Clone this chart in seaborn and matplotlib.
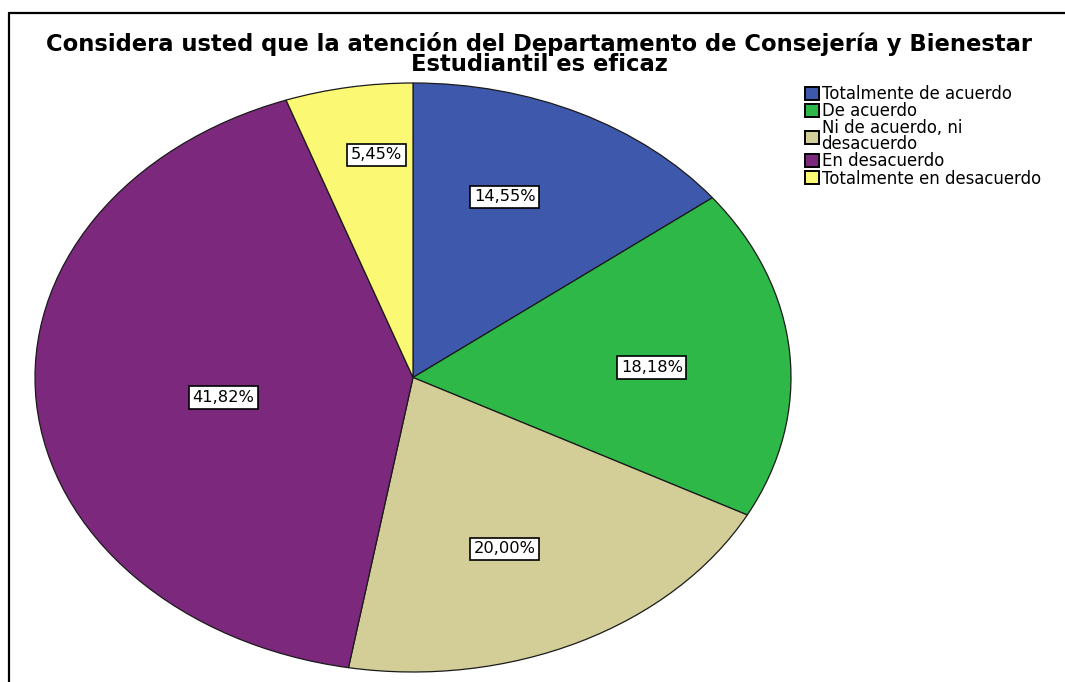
import numpy as np
import matplotlib
matplotlib.use("Agg")
import matplotlib.pyplot as plt
from matplotlib.lines import Line2D
from matplotlib.patches import Patch
import seaborn as sns

TITLE = ("Considera usted que la atención del Departamento de Consejería y Bienestar\n"
         "Estudiantil es eficaz")
categories = ["Totalmente de acuerdo", "De acuerdo", "Ni de acuerdo, ni\ndesacuerdo",
              "En desacuerdo", "Totalmente en desacuerdo"]
percentages = [14.55, 18.18, 20.00, 41.82, 5.45]
colors = ["#3E58AC", "#2EB848", "#D3CE97", "#7C287D", "#FBF873"]

# where each percentage box sits: fraction of radius and angle nudge (deg)
label_r = [0.66, 0.633, 0.63, 0.507, 0.762]
label_nudge = [4.6, -1.8, -3.5, 2.8, -2.5]

sns.set_theme(style="white")
plt.rcParams["font.family"] = ["DejaVu Sans"]
plt.rcParams["text.color"] = "black"

W, H = 1065, 682
fig = plt.figure(figsize=(W / 100, H / 100), dpi=100)
fig.patch.set_facecolor("white")

# elliptical pie: axes box is the ellipse bounding box
ax = fig.add_axes([35 / W, 1 - 672 / H, 756 / W, 589 / H])
wedges, _ = ax.pie(percentages, colors=sns.color_palette(colors), startangle=90,
                   counterclock=False, radius=1,
                   wedgeprops=dict(edgecolor="#1a1a1a", linewidth=0.9))
ax.set_aspect("auto")
ax.set_xlim(-1, 1)
ax.set_ylim(-1, 1)
ax.axis("off")

for w, pct, r, nd in zip(wedges, percentages, label_r, label_nudge):
    mid = np.deg2rad((w.theta1 + w.theta2) / 2 + nd)
    txt = f"{pct:.2f}%".replace(".", ",")
    ax.text(r * np.cos(mid), r * np.sin(mid), txt, ha="center", va="center",
            fontsize=11.7, color="black",
            bbox=dict(boxstyle="square,pad=0.22", facecolor="white",
                      edgecolor="black", linewidth=1.2))

fig.text(539 / W, 1 - 32 / H, TITLE, ha="center", va="top", fontsize=16.3,
         fontweight="bold", linespacing=0.86, color="black")

handles = [Patch(facecolor=c, edgecolor="black", linewidth=1.4) for c in colors]
leg = fig.legend(handles, categories, loc="upper left",
                 bbox_to_anchor=(805 / W, 1 - 85 / H), frameon=False,
                 fontsize=11.9, handlelength=0.85, handleheight=0.85,
                 handletextpad=0.15, labelspacing=-0.05, borderpad=0,
                 borderaxespad=0)
for t in leg.get_texts():
    t.set_linespacing(0.85)
    t.set_color("black")

# frame lines (left and top only visible)
fig.add_artist(Line2D([9 / W, 9 / W], [0, 1 - 13 / H], transform=fig.transFigure,
                      color="black", linewidth=1.6))
fig.add_artist(Line2D([9 / W, 1], [1 - 13 / H, 1 - 13 / H], transform=fig.transFigure,
                      color="black", linewidth=1.6))

fig.savefig("out.png", dpi=100, facecolor="white")
